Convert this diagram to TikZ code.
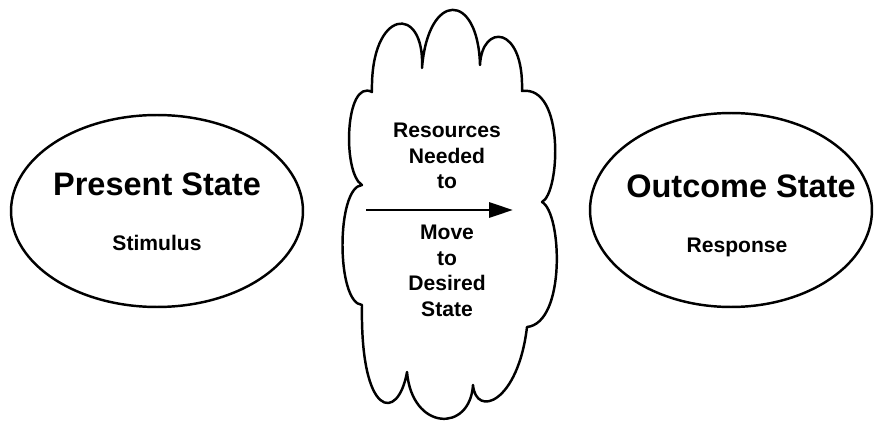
\documentclass[tikz,border=0pt]{standalone}
\usepackage{fontspec}
\setmainfont{Liberation Sans}
\usetikzlibrary{shapes.geometric,arrows.meta}

\begin{document}
\begin{tikzpicture}[
        x=0.02cm, y=0.02cm,
        % --- STYLE ---
        % Ellipse for the two states
        statenode/.style={
            ellipse,
            draw=black,
            line width=1.4pt,
            inner sep=0pt
        },
        % Big bold title inside an ellipse
        titletext/.style={
            font=\bfseries\fontsize{18.5}{22}\selectfont,
            inner sep=0pt,
            anchor=base
        },
        % Small bold text under the title
        subtext/.style={
            font=\bfseries\fontsize{12}{14}\selectfont,
            inner sep=0pt,
            anchor=base
        },
        % Text inside the cloud
        cloudtext/.style={
            font=\bfseries\fontsize{12}{14.5}\selectfont,
            align=center,
            inner sep=0pt,
            anchor=north
        },
        cloudline/.style={
            draw=black,
            line width=1.4pt,
            line join=round
        },
        moveline/.style={
            draw=black,
            line width=1.7pt,
            -{Triangle[length=13.6pt, width=8.5pt]}
        }
    ]
    \useasboundingbox (0,0) rectangle (875,423);

    % --- ELLIPSES ---
    \node[statenode, minimum width=5.84cm, minimum height=3.84cm] (present) at (157,212) {};
    \node[statenode, minimum width=5.64cm, minimum height=3.88cm] (outcome) at (731,213) {};

    % --- TEXT IN ELLIPSES ---
    \node[titletext] (presenttitle) at (157,228) {Present State};
    \node[subtext] (stimulus) at (157,173) {Stimulus};
    \node[titletext] (outcometitle) at (741,226) {Outcome State};
    \node[subtext] (response) at (737,171) {Response};

    % --- CLOUD ---
    \draw[cloudline] (372,331)
        .. controls (370,415) and (425,420) .. (422,355)   % top left
        .. controls (428,432) and (478,432) .. (480,358)   % top middle
        .. controls (482,400) and (524,398) .. (522,332)   % top right
        .. controls (565,338) and (560,230) .. (542,221)   % right upper
        .. controls (562,210) and (566,100) .. (527,96)    % right lower
        .. controls (518,20) and (476,5) .. (473,38)       % bottom right
        .. controls (470,-10) and (412,-8) .. (407,51)     % bottom middle
        .. controls (398,0) and (360,5) .. (362,118)       % bottom left
        .. controls (336,120) and (336,236) .. (362,238)   % left lower
        .. controls (342,250) and (345,345) .. (372,331)   % left upper
        -- cycle;

    % --- TEXT IN CLOUD ---
    \node[cloudtext] (needed) at (447,300) {Resources\\Needed\\to};
    \node[cloudtext] (desired) at (447,198) {Move\\to\\Desired\\State};

    % --- ARROW ---
    \coordinate (movestart) at (366,213);
    \coordinate (moveend) at (513,213);
    \draw[moveline] (movestart) -- (moveend);

\end{tikzpicture}
\end{document}
